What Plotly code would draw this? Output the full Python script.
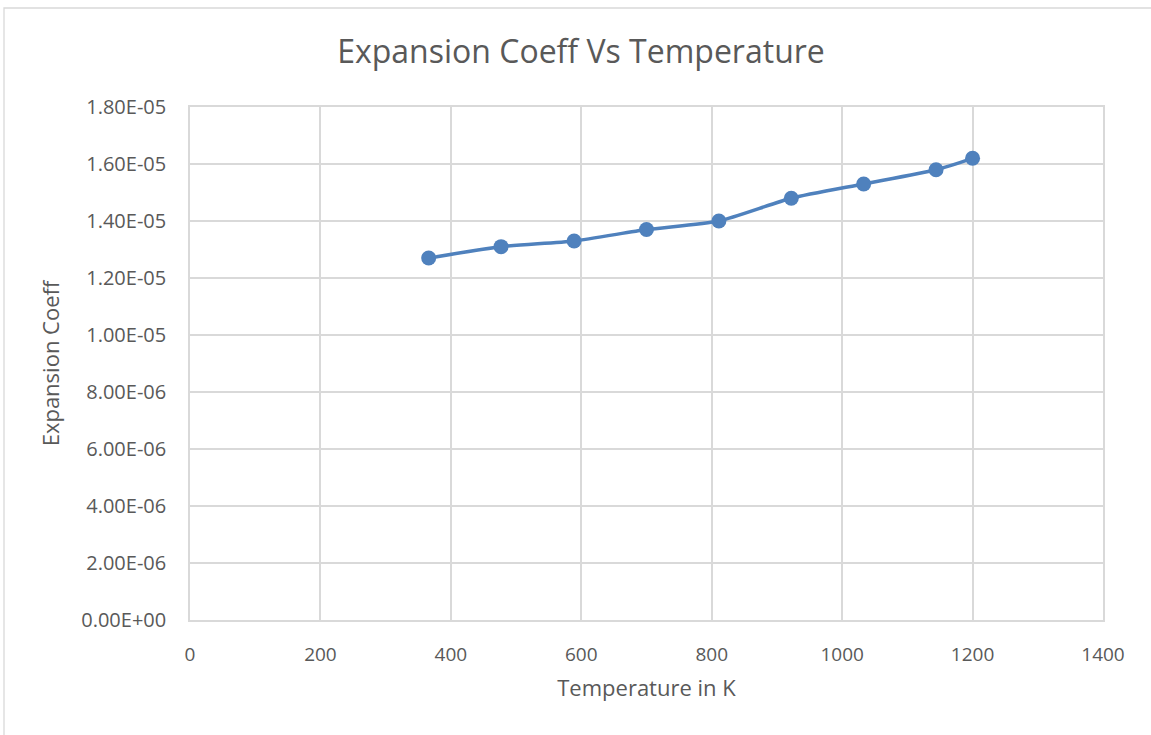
import plotly.graph_objects as go

temps = [366, 477, 589, 700, 811, 922, 1033, 1144, 1200]
coeffs = [1.27e-5, 1.31e-5, 1.33e-5, 1.37e-5, 1.40e-5, 1.48e-5, 1.53e-5, 1.58e-5, 1.62e-5]

y_tick_vals = [0, 2e-6, 4e-6, 6e-6, 8e-6, 1e-5, 1.2e-5, 1.4e-5, 1.6e-5, 1.8e-5]
y_tick_text = ["0.00E+00", "2.00E-06", "4.00E-06", "6.00E-06", "8.00E-06",
               "1.00E-05", "1.20E-05", "1.40E-05", "1.60E-05", "1.80E-05"]
x_tick_vals = [0, 200, 400, 600, 800, 1000, 1200, 1400]

FONT = "Open Sans"
TXT = "#595959"
GRID = "#d9d9d9"
BLUE = "#4f81bd"

fig = go.Figure()
fig.add_trace(go.Scatter(
    x=temps, y=coeffs, mode="lines+markers",
    line=dict(color=BLUE, width=3.5, shape="spline", smoothing=0.6),
    marker=dict(color=BLUE, size=15),
    showlegend=False,
))

L, R, T, B = 190, 48, 107, 115
W, H = 1151, 735
pw, ph = W - L - R, H - T - B

fig.update_layout(
    width=W, height=H,
    margin=dict(l=L, r=R, t=T, b=B),
    paper_bgcolor="white", plot_bgcolor="white",
    font=dict(family=FONT, color=TXT, size=19),
    title=dict(text="Expansion Coeff Vs Temperature", x=581 / W,
               xanchor="center", y=1 - 52 / H, yanchor="middle",
               font=dict(size=32, color=TXT, family=FONT)),
    xaxis=dict(range=[0, 1400], tickvals=x_tick_vals, showgrid=True, gridcolor=GRID,
               gridwidth=1.6, zeroline=False, showline=True, linecolor=GRID, linewidth=1.6,
               mirror=True, ticks="", ticklen=0, ticklabelstandoff=16,
               title=dict(text="Temperature in K", standoff=15, font=dict(size=22)),
               tickfont=dict(size=19)),
    yaxis=dict(range=[0, 1.8e-5], tickvals=y_tick_vals, ticktext=y_tick_text,
               showgrid=True, gridcolor=GRID, gridwidth=1.6, zeroline=False,
               showline=True, linecolor=GRID, linewidth=1.6, mirror=True, ticks="",
               ticklabelstandoff=18,
               title=dict(text="Expansion Coeff", standoff=16, font=dict(size=22)),
               tickfont=dict(size=20)),
    shapes=[dict(type="rect", xref="paper", yref="paper",
                 x0=(4 - L) / pw, x1=(1160 - L) / pw,
                 y0=(H - T - B - (740 - T)) / ph, y1=1 + (T - 8) / ph,
                 line=dict(color=GRID, width=1.3), fillcolor="rgba(0,0,0,0)", layer="below")],
)

fig.write_html("out.html")
